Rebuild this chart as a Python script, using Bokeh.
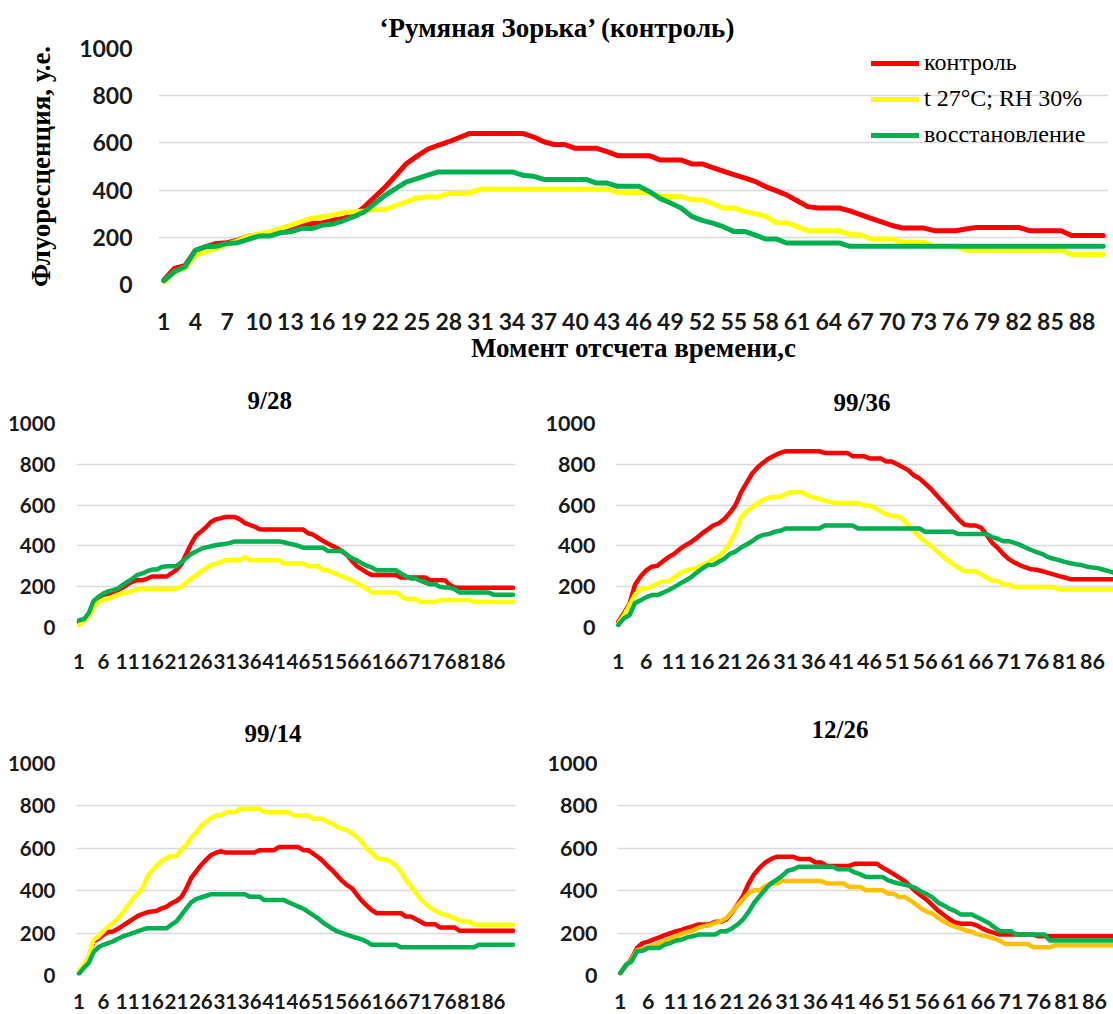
from bokeh.plotting import figure
from bokeh.layouts import column, row
from bokeh.models import Range1d, FixedTicker, Legend, LegendItem
from bokeh.embed import file_html
from bokeh.resources import INLINE

# ---------------- data ----------------
moments = list(range(1, 91))
y_ticks = [0, 200, 400, 600, 800, 1000]
top_x_ticks = list(range(1, 89, 3))
sub_x_ticks = list(range(1, 87, 5))

series_names = ["контроль", "t 27°C; RH 30%", "восстановление"]

main_title = "\u2018Румяная Зорька\u2019 (контроль)"
top_control = [18, 68, 80, 145, 160, 174, 177, 188, 205, 209,
               216, 230, 240, 250, 258, 261, 272, 280, 294, 329,
               371, 414, 463, 513, 544, 573, 590, 605, 623, 640,
               640, 640, 640, 640, 640, 626, 605, 593, 593, 577,
               577, 577, 563, 546, 546, 546, 546, 528, 528, 528,
               511, 511, 495, 480, 466, 452, 437, 415, 398, 380,
               355, 330, 324, 324, 324, 312, 296, 280, 265, 250,
               239, 239, 239, 228, 228, 228, 235, 242, 242, 242,
               242, 242, 228, 228, 228, 228, 208, 208, 208, 208]
top_stress = [11, 54, 68, 124, 138, 153, 171, 185, 205, 213,
              223, 237, 251, 266, 280, 287, 294, 304, 308, 312,
              318, 318, 336, 350, 367, 371, 371, 386, 386, 388,
              404, 404, 404, 404, 404, 404, 404, 404, 404, 404,
              404, 404, 404, 390, 390, 390, 390, 373, 373, 373,
              359, 359, 342, 324, 324, 310, 300, 290, 262, 262,
              245, 228, 228, 228, 228, 211, 211, 193, 193, 193,
              179, 179, 179, 162, 162, 162, 145, 145, 145, 145,
              145, 145, 145, 145, 145, 145, 127, 127, 127, 127]
top_recovery = [16, 54, 75, 145, 160, 162, 174, 177, 191, 205,
                205, 219, 223, 237, 237, 251, 256, 270, 287, 308,
                343, 379, 407, 435, 449, 463, 477, 477, 477, 477,
                477, 477, 477, 477, 463, 459, 445, 445, 445, 445,
                445, 430, 430, 416, 416, 416, 394, 365, 345, 324,
                289, 272, 260, 245, 225, 225, 210, 193, 193, 176,
                176, 176, 176, 176, 176, 162, 162, 162, 162, 162,
                162, 162, 162, 162, 162, 162, 162, 162, 162, 162,
                162, 162, 162, 162, 162, 162, 162, 162, 162, 162]

s928_control = [25, 35, 60, 120, 145, 160, 166, 175, 183, 196,
                212, 225, 232, 232, 240, 250, 250, 250, 250, 266,
                283, 310, 360, 410, 450, 470, 490, 516, 530, 535,
                542, 542, 542, 530, 512, 503, 495, 482, 480, 480,
                480, 480, 480, 480, 480, 480, 480, 462, 455, 440,
                425, 412, 400, 388, 372, 355, 325, 300, 285, 270,
                257, 257, 257, 257, 257, 257, 245, 245, 245, 245,
                245, 245, 232, 232, 232, 232, 210, 195, 195, 195,
                195, 195, 195, 195, 195, 195, 195, 195, 195, 195]
s928_stress = [12, 30, 55, 95, 125, 135, 140, 150, 160, 168,
               173, 178, 190, 190, 190, 190, 190, 190, 190, 190,
               190, 200, 220, 240, 255, 275, 290, 305, 312, 320,
               330, 330, 330, 330, 345, 330, 330, 330, 330, 330,
               330, 330, 314, 314, 314, 314, 314, 300, 300, 300,
               281, 281, 270, 260, 250, 240, 232, 216, 205, 190,
               172, 172, 172, 172, 172, 172, 155, 140, 140, 140,
               125, 125, 125, 125, 135, 135, 135, 135, 135, 135,
               135, 125, 125, 125, 125, 125, 125, 125, 125, 125]
s928_recovery = [36, 40, 70, 130, 150, 166, 177, 183, 191, 209,
                 225, 240, 258, 265, 276, 284, 284, 297, 300, 300,
                 300, 320, 340, 360, 372, 385, 392, 398, 403, 407,
                 410, 415, 422, 422, 422, 422, 422, 422, 422, 422,
                 422, 422, 418, 412, 407, 400, 391, 391, 391, 391,
                 391, 375, 375, 375, 375, 355, 340, 328, 315, 303,
                 295, 281, 281, 281, 281, 281, 265, 252, 240, 240,
                 230, 220, 212, 212, 200, 196, 196, 188, 172, 172,
                 172, 172, 172, 172, 172, 160, 160, 160, 160, 160]

s9936_control = [28, 70, 115, 210, 250, 280, 298, 303, 325, 345,
                 361, 384, 402, 418, 438, 461, 480, 500, 511, 531,
                 562, 600, 662, 709, 755, 786, 809, 829, 843, 856,
                 864, 864, 864, 864, 864, 864, 864, 856, 856, 856,
                 856, 856, 840, 840, 840, 829, 829, 829, 814, 814,
                 800, 786, 770, 745, 730, 705, 680, 650, 620, 590,
                 560, 530, 505, 500, 500, 490, 455, 415, 390, 360,
                 335, 318, 305, 295, 285, 283, 276, 268, 260, 252,
                 245, 237, 237, 237, 237, 237, 237, 237, 237, 237]
s9936_stress = [20, 60, 110, 160, 190, 190, 200, 215, 226, 226,
                245, 265, 278, 286, 290, 306, 320, 335, 350, 376,
                415, 469, 539, 570, 590, 610, 625, 637, 640, 640,
                655, 663, 663, 663, 647, 637, 630, 622, 615, 610,
                610, 610, 610, 610, 598, 598, 585, 570, 555, 547,
                547, 530, 500, 470, 445, 420, 399, 376, 353, 330,
                310, 292, 276, 276, 276, 262, 245, 229, 229, 211,
                211, 198, 198, 198, 198, 198, 198, 198, 198, 186,
                186, 186, 186, 186, 186, 186, 186, 186, 186, 186]
s9936_recovery = [12, 45, 60, 120, 133, 149, 159, 159, 170, 183,
                  198, 214, 229, 245, 268, 288, 306, 306, 322, 337,
                  361, 372, 392, 407, 423, 443, 454, 458, 469, 474,
                  485, 485, 485, 485, 485, 485, 485, 500, 500, 500,
                  500, 500, 500, 485, 485, 485, 485, 485, 485, 485,
                  485, 485, 485, 485, 485, 469, 469, 469, 469, 469,
                  469, 458, 458, 458, 458, 458, 458, 443, 435, 423,
                  423, 415, 405, 392, 380, 369, 360, 345, 337, 330,
                  322, 315, 310, 306, 298, 294, 291, 283, 275, 268]

s9914_control = [12, 45, 83, 160, 173, 192, 205, 208, 220, 235,
                 250, 265, 280, 290, 298, 302, 305, 317, 325, 341,
                 352, 370, 410, 460, 490, 520, 544, 567, 578, 586,
                 580, 580, 580, 580, 580, 580, 580, 591, 591, 591,
                 591, 606, 606, 606, 606, 606, 591, 591, 575, 559,
                 540, 515, 495, 470, 445, 425, 411, 380, 352, 330,
                 309, 294, 294, 294, 294, 294, 294, 278, 278, 267,
                 255, 242, 242, 242, 227, 227, 227, 227, 211, 211,
                 211, 211, 211, 211, 211, 211, 211, 211, 211, 211]
s9914_stress = [20, 52, 83, 170, 184, 208, 231, 247, 270, 298,
                330, 360, 385, 411, 465, 495, 520, 540, 555, 564,
                564, 595, 615, 650, 675, 705, 723, 742, 755, 755,
                770, 770, 770, 786, 786, 786, 786, 786, 770, 770,
                770, 770, 770, 770, 755, 755, 755, 755, 739, 739,
                739, 723, 716, 700, 692, 685, 670, 653, 630, 598,
                580, 555, 548, 548, 533, 520, 489, 450, 423, 392,
                360, 340, 320, 305, 294, 286, 280, 270, 258, 255,
                255, 239, 239, 239, 239, 239, 239, 239, 239, 239]
s9914_recovery = [8, 36, 59, 110, 133, 145, 153, 161, 173, 184,
                  192, 200, 208, 216, 223, 223, 223, 223, 223, 240,
                  255, 285, 315, 345, 360, 368, 375, 383, 383, 383,
                  383, 383, 383, 383, 383, 372, 372, 372, 356, 356,
                  356, 356, 356, 345, 335, 325, 315, 300, 285, 270,
                  250, 235, 220, 208, 200, 192, 184, 177, 170, 160,
                  145, 145, 145, 145, 145, 145, 133, 133, 133, 133,
                  133, 133, 133, 133, 133, 133, 133, 133, 133, 133,
                  133, 133, 145, 145, 145, 145, 145, 145, 145, 145]

s1226_control = [11, 45, 80, 130, 153, 160, 170, 180, 190, 200,
                 209, 215, 225, 232, 241, 241, 241, 253, 253, 264,
                 296, 335, 375, 434, 478, 509, 533, 549, 560, 560,
                 560, 560, 549, 549, 549, 533, 533, 517, 517, 517,
                 517, 517, 527, 527, 527, 527, 527, 509, 494, 478,
                 462, 445, 420, 395, 375, 355, 330, 305, 285, 265,
                 250, 244, 244, 244, 235, 220, 209, 201, 193, 193,
                 193, 193, 193, 193, 193, 185, 185, 185, 185, 185,
                 185, 185, 185, 185, 185, 185, 185, 185, 185, 185]
s1226_stress = [11, 50, 75, 120, 127, 133, 142, 153, 165, 174,
                185, 196, 206, 212, 225, 233, 237, 248, 256, 270,
                300, 330, 360, 388, 402, 402, 422, 434, 434, 446,
                446, 446, 446, 446, 446, 446, 446, 434, 434, 434,
                434, 418, 418, 418, 402, 402, 402, 402, 386, 386,
                370, 370, 354, 335, 315, 300, 291, 272, 255, 240,
                230, 222, 212, 206, 195, 188, 182, 174, 165, 149,
                149, 149, 149, 149, 133, 133, 133, 133, 143, 143,
                143, 143, 143, 143, 143, 143, 143, 143, 143, 143]
s1226_recovery = [11, 50, 66, 114, 117, 130, 130, 130, 146, 153,
                  165, 169, 180, 185, 193, 193, 193, 193, 209, 209,
                  222, 240, 265, 300, 343, 375, 407, 434, 451, 470,
                  494, 501, 513, 513, 513, 513, 513, 513, 513, 501,
                  501, 501, 486, 478, 465, 465, 465, 465, 449, 440,
                  434, 428, 422, 411, 395, 383, 367, 343, 330, 315,
                  304, 288, 288, 288, 275, 262, 248, 228, 209, 209,
                  209, 193, 193, 193, 193, 193, 193, 165, 165, 165,
                  165, 165, 165, 165, 165, 165, 165, 165, 165, 165]

RED = "#FF0000"
YELLOW = "#FFFF00"
ORANGE = "#FFC000"
GREEN = "#00B050"
GRID = "#D9D9D9"
SERIF = "Liberation Serif"
SANS = "Lato"


def make_fig(width, height, ml, mr, mt, mb, xend, title, t_off, t_stand,
             t_size, tick_size, xticks, lab_standoff_y, lab_standoff_x):
    p = figure(width=width, height=height, output_backend="svg",
               toolbar_location=None, x_range=Range1d(0.5, xend),
               y_range=Range1d(0, 1000), min_border_left=ml,
               min_border_right=mr, min_border_top=mt, min_border_bottom=mb,
               title=title)
    p.outline_line_color = None
    p.background_fill_color = "white"
    p.border_fill_color = "white"
    p.title.align = "left"
    p.title.offset = t_off
    p.title.standoff = t_stand
    p.title.text_font = SERIF
    p.title.text_font_style = "bold"
    p.title.text_font_size = t_size
    p.title.text_color = "black"
    for ax in (p.xaxis[0], p.yaxis[0]):
        ax.axis_line_color = None
        ax.major_tick_line_color = None
        ax.minor_tick_line_color = None
        ax.major_label_text_font = SANS
        ax.major_label_text_font_style = "bold"
        ax.major_label_text_font_size = tick_size
        ax.major_label_text_color = "#1a1a1a"
    p.yaxis.ticker = FixedTicker(ticks=y_ticks)
    p.xaxis.ticker = FixedTicker(ticks=xticks)
    p.yaxis.major_label_standoff = lab_standoff_y
    p.xaxis.major_label_standoff = lab_standoff_x
    p.xgrid.grid_line_color = None
    p.ygrid.ticker = FixedTicker(ticks=y_ticks)
    p.ygrid.grid_line_color = GRID
    p.ygrid.grid_line_width = 1.5
    return p


def add_series(p, values, colors, lw):
    rs = []
    for vals, col in zip(values, colors):
        rs.append(p.line(moments, vals, line_color=col, line_width=lw,
                         line_join="round", line_cap="round"))
    return rs


# ---- top chart ----
top = make_fig(1113, 370, 158, 5, 48, 86, 90.5, main_title, 221, 10,
               "27px", "23px", top_x_ticks, 20, 22)
top.title.vertical_align = "middle"
rs = add_series(top, [top_control, top_stress, top_recovery],
                [RED, YELLOW, GREEN], 5)
top.yaxis.axis_label = "Флуоресценция, у.е."
top.xaxis.axis_label = "Момент отсчета времени,с"
for ax in (top.xaxis[0], top.yaxis[0]):
    ax.axis_label_text_font = SERIF
    ax.axis_label_text_font_style = "bold"
    ax.axis_label_text_font_size = "27px"
    ax.axis_label_text_color = "black"
top.yaxis.axis_label_standoff = 20
top.xaxis.axis_label_standoff = 0
legend = Legend(items=[LegendItem(label=n, renderers=[r])
                       for n, r in zip(series_names, rs)],
                location=(713, 136), padding=0, margin=0, spacing=9,
                glyph_width=48, glyph_height=20, label_height=20,
                label_standoff=5, border_line_color=None,
                background_fill_alpha=0.0)
legend.label_text_font = SERIF
legend.label_text_font_size = "24px"
legend.label_text_color = "black"
top.add_layout(legend)

# ---- sub charts ----
f1 = make_fig(540, 320, 76, 25, 53, 63, 90.5, "9/28", 171, 19,
              "25px", "20.5px", sub_x_ticks, 15, 20)
add_series(f1, [s928_control, s928_stress, s928_recovery],
           [RED, YELLOW, GREEN], 4.5)

f2 = make_fig(573, 320, 75, 0, 46, 58, 89.75, "99/36", 218, 15,
              "25px", "21.5px", sub_x_ticks, 14, 20)
add_series(f2, [s9936_control, s9936_stress, s9936_recovery],
           [RED, YELLOW, GREEN], 4.5)

f3 = make_fig(540, 324, 76, 25, 71, 39, 90.5, "99/14", 168, 34,
              "25px", "20.5px", sub_x_ticks, 15, 12)
add_series(f3, [s9914_control, s9914_stress, s9914_recovery],
           [RED, YELLOW, GREEN], 4.5)

f4 = make_fig(573, 324, 77, 0, 73, 39, 89.39, "12/26", 194, 42,
              "25px", "21.5px", sub_x_ticks, 14, 12)
add_series(f4, [s1226_control, s1226_stress, s1226_recovery],
           [RED, ORANGE, GREEN], 4.5)

layout = column(top, row(f1, f2, spacing=0), row(f3, f4, spacing=0),
                spacing=0)

open("out.html", "w").write(file_html(layout, INLINE))
